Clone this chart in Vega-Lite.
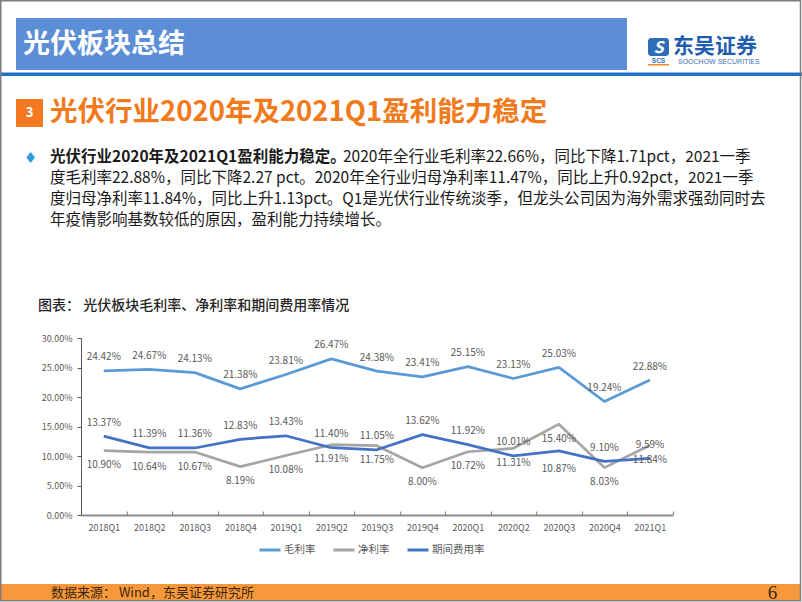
{
  "$schema": "https://vega.github.io/schema/vega-lite/v6.json",
  "width": 802,
  "height": 602,
  "autosize": {"type": "none"},
  "padding": 0,
  "background": "#ffffff",
  "config": {"view": {"stroke": null}, "font": "Noto Sans CJK SC"},
  "datasets": {
    "rates": [
      {"q": "2018Q1", "s": "毛利率", "v": 0.2442},
      {"q": "2018Q2", "s": "毛利率", "v": 0.2467},
      {"q": "2018Q3", "s": "毛利率", "v": 0.2413},
      {"q": "2018Q4", "s": "毛利率", "v": 0.2138},
      {"q": "2019Q1", "s": "毛利率", "v": 0.2381},
      {"q": "2019Q2", "s": "毛利率", "v": 0.2647},
      {"q": "2019Q3", "s": "毛利率", "v": 0.2438},
      {"q": "2019Q4", "s": "毛利率", "v": 0.2341},
      {"q": "2020Q1", "s": "毛利率", "v": 0.2515},
      {"q": "2020Q2", "s": "毛利率", "v": 0.2313},
      {"q": "2020Q3", "s": "毛利率", "v": 0.2503},
      {"q": "2020Q4", "s": "毛利率", "v": 0.1924},
      {"q": "2021Q1", "s": "毛利率", "v": 0.2288},
      {"q": "2018Q1", "s": "净利率", "v": 0.1090},
      {"q": "2018Q2", "s": "净利率", "v": 0.1064},
      {"q": "2018Q3", "s": "净利率", "v": 0.1067},
      {"q": "2018Q4", "s": "净利率", "v": 0.0819},
      {"q": "2019Q1", "s": "净利率", "v": 0.1008},
      {"q": "2019Q2", "s": "净利率", "v": 0.1191},
      {"q": "2019Q3", "s": "净利率", "v": 0.1175},
      {"q": "2019Q4", "s": "净利率", "v": 0.0800},
      {"q": "2020Q1", "s": "净利率", "v": 0.1072},
      {"q": "2020Q2", "s": "净利率", "v": 0.1131},
      {"q": "2020Q3", "s": "净利率", "v": 0.1540},
      {"q": "2020Q4", "s": "净利率", "v": 0.0803},
      {"q": "2021Q1", "s": "净利率", "v": 0.1184},
      {"q": "2018Q1", "s": "期间费用率", "v": 0.1337},
      {"q": "2018Q2", "s": "期间费用率", "v": 0.1139},
      {"q": "2018Q3", "s": "期间费用率", "v": 0.1136},
      {"q": "2018Q4", "s": "期间费用率", "v": 0.1283},
      {"q": "2019Q1", "s": "期间费用率", "v": 0.1343},
      {"q": "2019Q2", "s": "期间费用率", "v": 0.1140},
      {"q": "2019Q3", "s": "期间费用率", "v": 0.1105},
      {"q": "2019Q4", "s": "期间费用率", "v": 0.1362},
      {"q": "2020Q1", "s": "期间费用率", "v": 0.1192},
      {"q": "2020Q2", "s": "期间费用率", "v": 0.1001},
      {"q": "2020Q3", "s": "期间费用率", "v": 0.1087},
      {"q": "2020Q4", "s": "期间费用率", "v": 0.0910},
      {"q": "2021Q1", "s": "期间费用率", "v": 0.0959}
    ]
  },
  "layer": [
    {
      "data": {"values": [{}]},
      "mark": {"type": "rect", "fill": "#5B8ED6"},
      "encoding": {"x": {"value": 16}, "x2": {"value": 627}, "y": {"value": 18}, "y2": {"value": 70}}
    },
    {
      "data": {"values": [{}]},
      "mark": {"type": "text", "text": "光伏板块总结", "align": "left", "baseline": "middle", "fontSize": 27, "fontWeight": "bold", "color": "#ffffff"},
      "encoding": {"x": {"value": 23}, "y": {"value": 45}}
    },
    {
      "data": {"values": [{}]},
      "mark": {"type": "rect", "fill": "#2070C4"},
      "encoding": {"x": {"value": 0}, "x2": {"value": 802}, "y": {"value": 72.5}, "y2": {"value": 76}}
    },
    {
      "data": {"values": [{}]},
      "mark": {"type": "rect", "fill": "#2E6DB8", "cornerRadius": 3},
      "encoding": {"x": {"value": 648}, "x2": {"value": 669}, "y": {"value": 38}, "y2": {"value": 56}}
    },
    {
      "data": {"values": [{}]},
      "mark": {"type": "text", "text": "S", "align": "center", "baseline": "middle", "fontSize": 16, "fontWeight": "bold", "fontStyle": "italic", "color": "#ffffff"},
      "encoding": {"x": {"value": 658.5}, "y": {"value": 47.5}}
    },
    {
      "data": {"values": [{}]},
      "mark": {"type": "text", "text": "SCS", "align": "center", "baseline": "middle", "fontSize": 6.5, "fontWeight": "bold", "color": "#2E6DB8", "font": "Liberation Sans"},
      "encoding": {"x": {"value": 658.5}, "y": {"value": 61}}
    },
    {
      "data": {"values": [{}]},
      "mark": {"type": "rect", "fill": "#F08A24"},
      "encoding": {"x": {"value": 648}, "x2": {"value": 669}, "y": {"value": 64}, "y2": {"value": 65.5}}
    },
    {
      "data": {"values": [{}]},
      "mark": {"type": "text", "text": "东吴证券", "align": "left", "baseline": "middle", "fontSize": 21, "fontWeight": "bold", "color": "#1F5DAE"},
      "encoding": {"x": {"value": 673}, "y": {"value": 46.5}}
    },
    {
      "data": {"values": [{}]},
      "mark": {"type": "text", "text": "SOOCHOW SECURITIES", "align": "left", "baseline": "middle", "fontSize": 7, "color": "#3F73BA", "font": "Liberation Sans"},
      "encoding": {"x": {"value": 678}, "y": {"value": 61.5}}
    },
    {
      "data": {"values": [{}]},
      "mark": {"type": "rect", "fill": "#F47920"},
      "encoding": {"x": {"value": 16}, "x2": {"value": 43}, "y": {"value": 99}, "y2": {"value": 127}}
    },
    {
      "data": {"values": [{}]},
      "mark": {"type": "text", "text": "3", "align": "center", "baseline": "middle", "fontSize": 13, "fontWeight": "bold", "color": "#ffffff"},
      "encoding": {"x": {"value": 29.5}, "y": {"value": 113}}
    },
    {
      "data": {"values": [{}]},
      "mark": {"type": "text", "text": "光伏行业2020年及2021Q1盈利能力稳定", "align": "left", "baseline": "middle", "fontSize": 27.5, "fontWeight": "bold", "color": "#F07A1C"},
      "encoding": {"x": {"value": 50}, "y": {"value": 113}}
    },
    {
      "data": {"values": [{}]},
      "mark": {"type": "text", "text": "♦", "align": "center", "baseline": "middle", "fontSize": 15, "color": "#2B9BDA", "font": "DejaVu Sans"},
      "encoding": {"x": {"value": 30.5}, "y": {"value": 157.5}}
    },
    {
      "data": {"values": [{}]},
      "mark": {"type": "text", "text": "光伏行业2020年及2021Q1盈利能力稳定。", "align": "left", "baseline": "middle", "fontSize": 15.5, "fontWeight": "bold", "color": "#1a1a1a"},
      "encoding": {"x": {"value": 50}, "y": {"value": 157}}
    },
    {
      "data": {"values": [{}]},
      "mark": {"type": "text", "text": "2020年全行业毛利率22.66%，同比下降1.71pct，2021一季", "align": "left", "baseline": "middle", "fontSize": 15.5, "color": "#1a1a1a"},
      "encoding": {"x": {"value": 343}, "y": {"value": 157}}
    },
    {
      "data": {"values": [{}]},
      "mark": {"type": "text", "text": "度毛利率22.88%，同比下降2.27 pct。2020年全行业归母净利率11.47%，同比上升0.92pct，2021一季", "align": "left", "baseline": "middle", "fontSize": 15.5, "color": "#1a1a1a"},
      "encoding": {"x": {"value": 50}, "y": {"value": 178}}
    },
    {
      "data": {"values": [{}]},
      "mark": {"type": "text", "text": "度归母净利率11.84%，同比上升1.13pct。Q1是光伏行业传统淡季，但龙头公司因为海外需求强劲同时去", "align": "left", "baseline": "middle", "fontSize": 15.5, "color": "#1a1a1a"},
      "encoding": {"x": {"value": 50}, "y": {"value": 199}}
    },
    {
      "data": {"values": [{}]},
      "mark": {"type": "text", "text": "年疫情影响基数较低的原因，盈利能力持续增长。", "align": "left", "baseline": "middle", "fontSize": 15.5, "color": "#1a1a1a"},
      "encoding": {"x": {"value": 50}, "y": {"value": 220}}
    },
    {
      "data": {"values": [{}]},
      "mark": {"type": "text", "text": "图表： 光伏板块毛利率、净利率和期间费用率情况", "align": "left", "baseline": "middle", "fontSize": 14, "fontWeight": 500, "color": "#262626"},
      "encoding": {"x": {"value": 38}, "y": {"value": 306}}
    },
    {
      "data": {"name": "rates"},
      "mark": {"type": "line", "strokeWidth": 2.75, "strokeJoin": "round"},
      "encoding": {
        "x": {
          "field": "q", "type": "ordinal", "sort": null, "bandPosition": 0.5,
          "scale": {"type": "band", "range": [81, 672.7], "paddingInner": 0, "paddingOuter": 0},
          "axis": {"orient": "bottom", "offset": -87, "title": null, "labelAngle": 0, "domainColor": "#8c8c8c", "domainWidth": 2, "tickColor": "#8c8c8c", "tickSize": -4, "tickWidth": 1.2, "tickBand": "extent", "labelFontSize": 9, "labelColor": "#595959", "labelPadding": 12, "grid": false}
        },
        "y": {
          "field": "v", "type": "quantitative",
          "scale": {"domain": [0, 0.3], "range": [515, 338], "nice": false},
          "axis": {"orient": "left", "offset": -81, "title": null, "values": [0, 0.05, 0.1, 0.15, 0.2, 0.25, 0.3], "format": ".2%", "grid": false, "domainColor": "#595959", "domainWidth": 1, "tickColor": "#595959", "tickSize": 4, "labelFontSize": 9, "labelColor": "#595959", "labelPadding": 5}
        },
        "color": {
          "field": "s", "type": "nominal",
          "scale": {"domain": ["毛利率", "净利率", "期间费用率"], "range": ["#5B9BD5", "#A5A5A5", "#4472C4"]},
          "legend": {"orient": "none", "legendX": 258, "legendY": 538, "direction": "horizontal", "title": null, "symbolType": "stroke", "symbolSize": 441, "symbolStrokeWidth": 3, "labelFontSize": 10.5, "labelColor": "#595959", "labelOffset": 2, "columnPadding": 11, "padding": 0}
        }
      }
    },
    {
      "data": {"name": "rates"},
      "transform": [{"filter": "datum.s === '毛利率'"}],
      "mark": {"type": "text", "dy": -13.5, "fontSize": 10, "color": "#595959", "baseline": "middle"},
      "encoding": {
        "x": {"field": "q", "type": "ordinal", "sort": null, "bandPosition": 0.5},
        "y": {"field": "v", "type": "quantitative"},
        "text": {"field": "v", "type": "quantitative", "format": ".2%"}
      }
    },
    {
      "data": {"name": "rates"},
      "transform": [{"filter": "datum.s === '净利率'"}],
      "mark": {"type": "text", "dy": 14.5, "fontSize": 10, "color": "#595959", "baseline": "middle"},
      "encoding": {
        "x": {"field": "q", "type": "ordinal", "sort": null, "bandPosition": 0.5},
        "y": {"field": "v", "type": "quantitative"},
        "text": {"field": "v", "type": "quantitative", "format": ".2%"}
      }
    },
    {
      "data": {"name": "rates"},
      "transform": [{"filter": "datum.s === '期间费用率' && datum.q !== '2020Q3'"}],
      "mark": {"type": "text", "dy": -13.5, "fontSize": 10, "color": "#595959", "baseline": "middle"},
      "encoding": {
        "x": {"field": "q", "type": "ordinal", "sort": null, "bandPosition": 0.5},
        "y": {"field": "v", "type": "quantitative"},
        "text": {"field": "v", "type": "quantitative", "format": ".2%"}
      }
    },
    {
      "data": {"name": "rates"},
      "transform": [{"filter": "datum.s === '期间费用率' && datum.q === '2020Q3'"}],
      "mark": {"type": "text", "dy": 18, "fontSize": 10, "color": "#595959", "baseline": "middle"},
      "encoding": {
        "x": {"field": "q", "type": "ordinal", "sort": null, "bandPosition": 0.5},
        "y": {"field": "v", "type": "quantitative"},
        "text": {"field": "v", "type": "quantitative", "format": ".2%"}
      }
    },
    {
      "data": {"values": [{}]},
      "mark": {"type": "rect", "fill": "#F7993A"},
      "encoding": {"x": {"value": 0}, "x2": {"value": 801}, "y": {"value": 584}, "y2": {"value": 600.5}}
    },
    {
      "data": {"values": [{}]},
      "mark": {"type": "text", "text": "数据来源： Wind，东吴证券研究所", "align": "left", "baseline": "middle", "fontSize": 13, "color": "#3a2812"},
      "encoding": {"x": {"value": 51}, "y": {"value": 592.5}}
    },
    {
      "data": {"values": [{}]},
      "mark": {"type": "text", "text": "6", "align": "center", "baseline": "middle", "fontSize": 19, "color": "#3a2812", "font": "Liberation Serif"},
      "encoding": {"x": {"value": 772.5}, "y": {"value": 593}}
    },
    {
      "data": {"values": [{}]},
      "mark": {"type": "rect", "fill": null, "fillOpacity": 0, "stroke": "#7f7f7f", "strokeWidth": 1.5},
      "encoding": {"x": {"value": 0.75}, "x2": {"value": 800.5}, "y": {"value": 0.75}, "y2": {"value": 600.8}}
    }
  ]
}
